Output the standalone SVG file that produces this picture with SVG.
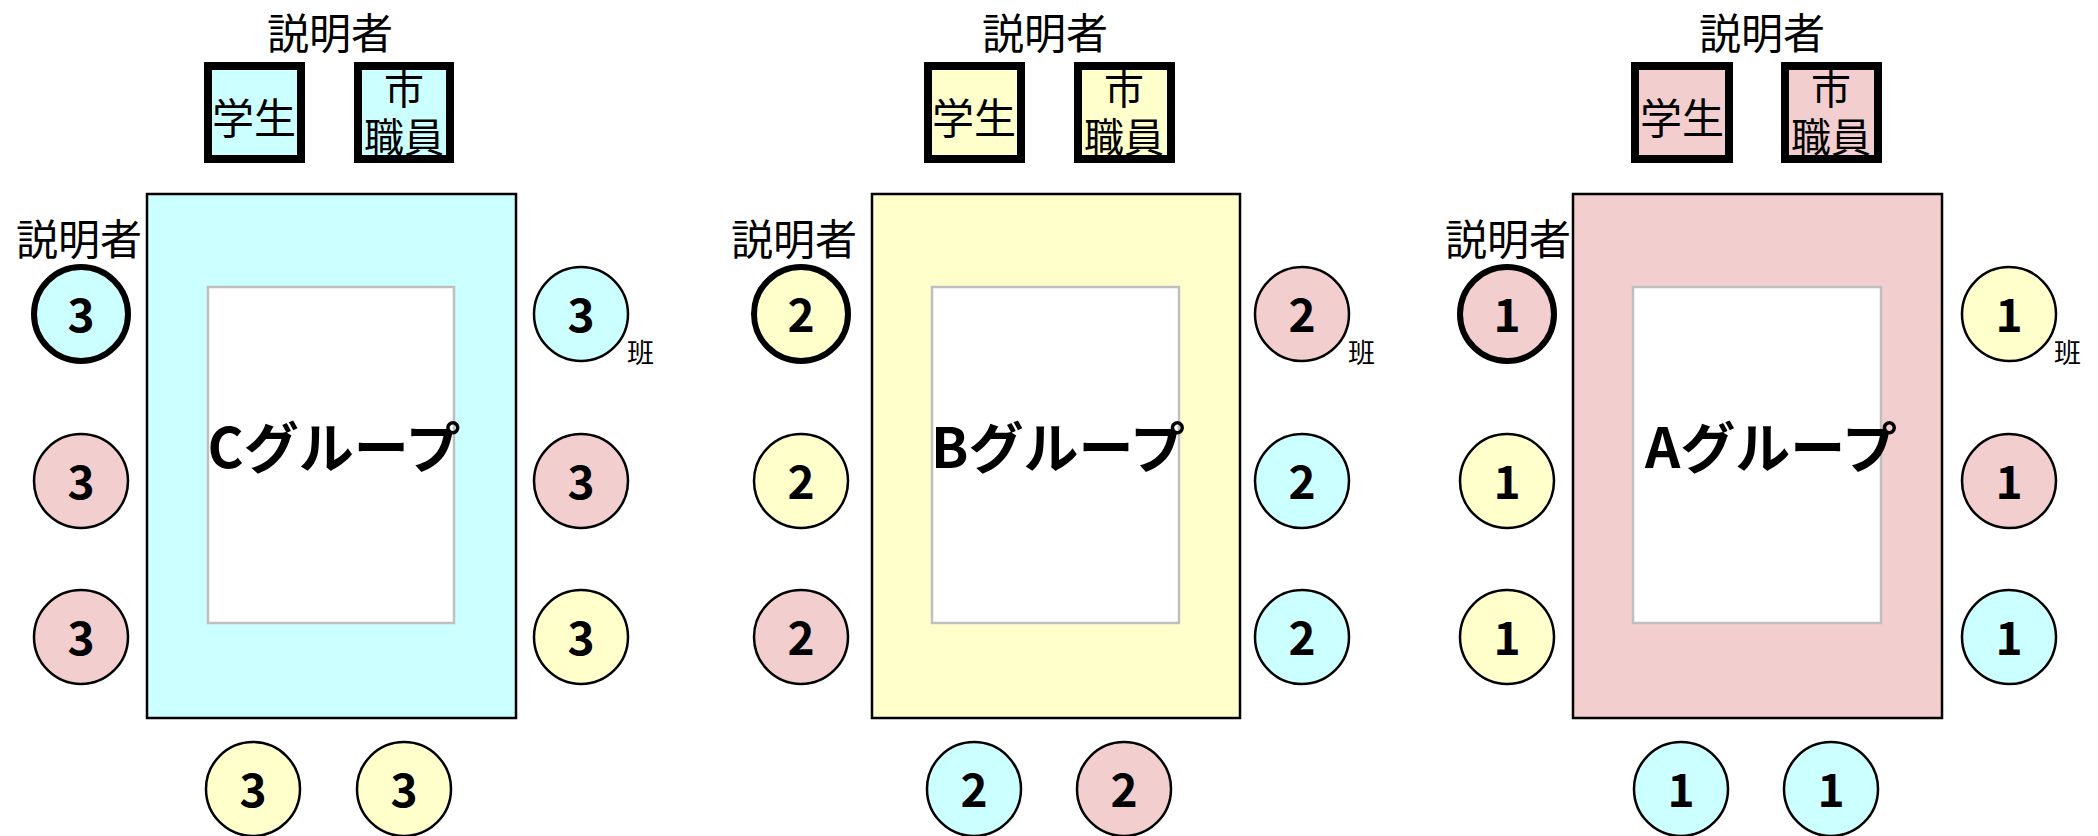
<svg xmlns="http://www.w3.org/2000/svg" width="2098" height="836" viewBox="0 0 2098 836">
<style>
text{font-family:"Noto Sans CJK JP","Noto Sans",sans-serif;fill:#000}
.lbl{font-size:42px}
.box{font-size:42px;text-anchor:middle}
.box2{font-size:40px;text-anchor:middle}
.num{font-size:46px;font-weight:bold;text-anchor:middle}
.grp{font-size:55px;font-weight:bold;text-anchor:middle}
.han{font-size:27px}
.tbl{stroke:#000;stroke-width:2.5}
.inner{fill:#fff;stroke:#BFBFBF;stroke-width:2.5}
.pbox{stroke:#000;stroke-width:8}
.seat{stroke:#000;stroke-width:2.5}
.lead{stroke:#000;stroke-width:6}
.c{fill:#CCFFFF}.y{fill:#FFFFCC}.p{fill:#F2CECE}
</style>
<rect width="2098" height="836" fill="#fff"/>
<g id="connectors"/>

<!-- C group -->
<g id="groupC">
  <text class="lbl" x="330" y="49" text-anchor="middle">説明者</text>
  <g id="C-student"><rect class="pbox c" x="208" y="66" width="93" height="93"/><text class="box" x="254" y="134">学生</text></g>
  <g id="C-staff"><rect class="pbox c" x="358" y="66" width="92" height="93"/><text class="box2" x="404" y="104">市<tspan x="404" dy="48">職員</tspan></text></g>
  <g id="C-table"><rect class="tbl c" x="147" y="194" width="369" height="524"/><rect class="inner" x="208" y="287" width="246" height="336"/><text class="grp" x="334" y="468">Cグループ</text></g>
  <text class="lbl" x="16" y="255">説明者</text>
  <g id="C-L1"><circle class="lead c" cx="81" cy="314" r="47"/><text class="num" x="81" y="332">3</text></g>
  <g id="C-L2"><circle class="seat p" cx="81" cy="481" r="47"/><text class="num" x="81" y="499">3</text></g>
  <g id="C-L3"><circle class="seat p" cx="81" cy="637" r="47"/><text class="num" x="81" y="655">3</text></g>
  <g id="C-R1"><circle class="seat c" cx="581" cy="314" r="47"/><text class="num" x="581" y="332">3</text></g>
  <text class="han" x="627" y="363">班</text>
  <g id="C-R2"><circle class="seat p" cx="581" cy="481" r="47"/><text class="num" x="581" y="499">3</text></g>
  <g id="C-R3"><circle class="seat y" cx="581" cy="637" r="47"/><text class="num" x="581" y="655">3</text></g>
  <g id="C-B1"><circle class="seat y" cx="253" cy="789" r="47"/><text class="num" x="253" y="807">3</text></g>
  <g id="C-B2"><circle class="seat y" cx="404" cy="789" r="47"/><text class="num" x="404" y="807">3</text></g>
</g>

<!-- B group -->
<g id="groupB">
  <text class="lbl" x="1045" y="49" text-anchor="middle">説明者</text>
  <g id="B-student"><rect class="pbox y" x="928" y="66" width="93" height="93"/><text class="box" x="974" y="134">学生</text></g>
  <g id="B-staff"><rect class="pbox y" x="1078" y="66" width="93" height="93"/><text class="box2" x="1124" y="104">市<tspan x="1124" dy="48">職員</tspan></text></g>
  <g id="B-table"><rect class="tbl y" x="872" y="194" width="368" height="524"/><rect class="inner" x="932" y="287" width="247" height="336"/><text class="grp" x="1058" y="468">Bグループ</text></g>
  <text class="lbl" x="731" y="255">説明者</text>
  <g id="B-L1"><circle class="lead y" cx="801" cy="314" r="47"/><text class="num" x="801" y="332">2</text></g>
  <g id="B-L2"><circle class="seat y" cx="801" cy="481" r="47"/><text class="num" x="801" y="499">2</text></g>
  <g id="B-L3"><circle class="seat p" cx="801" cy="637" r="47"/><text class="num" x="801" y="655">2</text></g>
  <g id="B-R1"><circle class="seat p" cx="1302" cy="314" r="47"/><text class="num" x="1302" y="332">2</text></g>
  <text class="han" x="1348" y="363">班</text>
  <g id="B-R2"><circle class="seat c" cx="1302" cy="481" r="47"/><text class="num" x="1302" y="499">2</text></g>
  <g id="B-R3"><circle class="seat c" cx="1302" cy="637" r="47"/><text class="num" x="1302" y="655">2</text></g>
  <g id="B-B1"><circle class="seat c" cx="974" cy="789" r="47"/><text class="num" x="974" y="807">2</text></g>
  <g id="B-B2"><circle class="seat p" cx="1124" cy="789" r="47"/><text class="num" x="1124" y="807">2</text></g>
</g>

<!-- A group -->
<g id="groupA">
  <text class="lbl" x="1762" y="49" text-anchor="middle">説明者</text>
  <g id="A-student"><rect class="pbox p" x="1635" y="66" width="94" height="93"/><text class="box" x="1682" y="134">学生</text></g>
  <g id="A-staff"><rect class="pbox p" x="1785" y="66" width="93" height="93"/><text class="box2" x="1831" y="104">市<tspan x="1831" dy="48">職員</tspan></text></g>
  <g id="A-table"><rect class="tbl p" x="1573" y="194" width="369" height="524"/><rect class="inner" x="1633" y="287" width="248" height="336"/><text class="grp" x="1771" y="468">Aグループ</text></g>
  <text class="lbl" x="1445" y="255">説明者</text>
  <g id="A-L1"><circle class="lead p" cx="1507" cy="314" r="47"/><text class="num" x="1507" y="332">1</text></g>
  <g id="A-L2"><circle class="seat y" cx="1507" cy="481" r="47"/><text class="num" x="1507" y="499">1</text></g>
  <g id="A-L3"><circle class="seat y" cx="1507" cy="637" r="47"/><text class="num" x="1507" y="655">1</text></g>
  <g id="A-R1"><circle class="seat y" cx="2009" cy="314" r="47"/><text class="num" x="2009" y="332">1</text></g>
  <text class="han" x="2054" y="363">班</text>
  <g id="A-R2"><circle class="seat p" cx="2009" cy="481" r="47"/><text class="num" x="2009" y="499">1</text></g>
  <g id="A-R3"><circle class="seat c" cx="2009" cy="637" r="47"/><text class="num" x="2009" y="655">1</text></g>
  <g id="A-B1"><circle class="seat c" cx="1681" cy="789" r="47"/><text class="num" x="1681" y="807">1</text></g>
  <g id="A-B2"><circle class="seat c" cx="1831" cy="789" r="47"/><text class="num" x="1831" y="807">1</text></g>
</g>
</svg>
